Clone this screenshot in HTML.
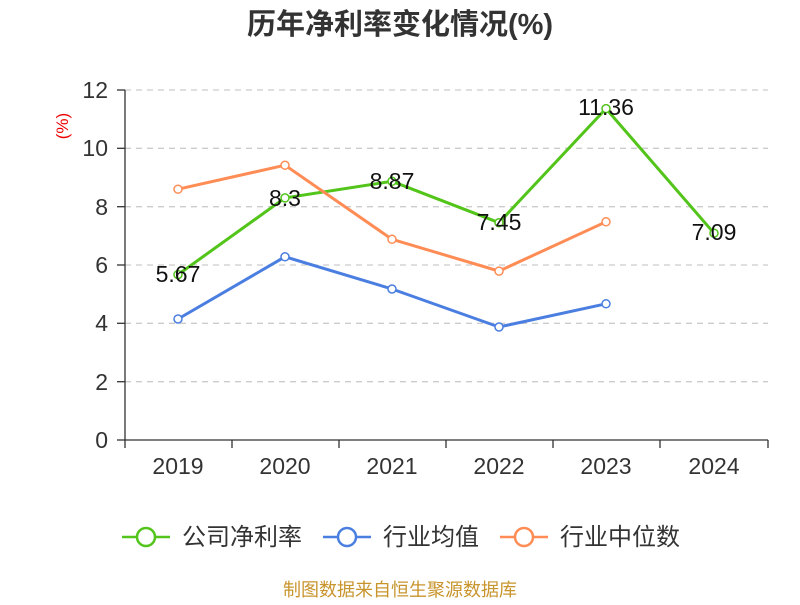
<!DOCTYPE html>
<html><head><meta charset="utf-8"><style>
body{margin:0;background:#fff;width:800px;height:600px;overflow:hidden}
svg text{font-family:"Liberation Sans","Noto Sans CJK SC",sans-serif}
</style></head><body>
<svg width="800" height="600" viewBox="0 0 800 600" xmlns="http://www.w3.org/2000/svg">
<text x="400" y="34" text-anchor="middle" font-size="29" font-weight="bold" fill="#333">历年净利率变化情况(%)</text>
<text x="68" y="126" font-size="17" fill="#e00" transform="rotate(-90 68 126)" text-anchor="middle">(%)</text>
<g stroke="#ccc" stroke-dasharray="6,5" stroke-width="1.3">
<line x1="125" x2="768" y1="90" y2="90"/><line x1="125" x2="768" y1="148.3" y2="148.3"/>
<line x1="125" x2="768" y1="206.7" y2="206.7"/><line x1="125" x2="768" y1="265" y2="265"/>
<line x1="125" x2="768" y1="323.3" y2="323.3"/><line x1="125" x2="768" y1="381.7" y2="381.7"/>
</g>
<g stroke="#333" stroke-width="1.3">
<line x1="125" x2="125" y1="90" y2="440"/><line x1="125" x2="768" y1="440" y2="440"/>
<line x1="117" x2="125" y1="90" y2="90"/><line x1="117" x2="125" y1="148.3" y2="148.3"/>
<line x1="117" x2="125" y1="206.7" y2="206.7"/><line x1="117" x2="125" y1="265" y2="265"/>
<line x1="117" x2="125" y1="323.3" y2="323.3"/><line x1="117" x2="125" y1="381.7" y2="381.7"/>
<line x1="117" x2="125" y1="440" y2="440"/>
<line x1="125" x2="125" y1="440" y2="448"/><line x1="232" x2="232" y1="440" y2="448"/>
<line x1="339" x2="339" y1="440" y2="448"/><line x1="446" x2="446" y1="440" y2="448"/>
<line x1="553" x2="553" y1="440" y2="448"/><line x1="660" x2="660" y1="440" y2="448"/>
<line x1="768" x2="768" y1="440" y2="448"/>
</g>
<g font-size="23" fill="#333" text-anchor="end">
<text x="108" y="98">12</text><text x="108" y="156">10</text><text x="108" y="215">8</text>
<text x="108" y="273">6</text><text x="108" y="331">4</text><text x="108" y="390">2</text><text x="108" y="448">0</text>
</g>
<g font-size="23" fill="#333" text-anchor="middle">
<text x="178" y="474">2019</text><text x="285" y="474">2020</text><text x="392" y="474">2021</text>
<text x="499" y="474">2022</text><text x="606" y="474">2023</text><text x="714" y="474">2024</text>
</g>
<g fill="none" stroke-width="3">
<polyline stroke="#52c41a" points="178,274.6 285,197.9 392,181.3 499,222.7 606,108.6 714,233.2"/>
<polyline stroke="#4a7ee0" points="178,319 285,256.8 392,289 499,327 606,303.8"/>
<polyline stroke="#ff8c55" points="178,189.2 285,165.2 392,239.3 499,271.1 606,221.8"/>
</g>
<g fill="#fff" stroke-width="1.5">
<g stroke="#52c41a"><circle cx="178" cy="274.6" r="4"/><circle cx="285" cy="197.9" r="4"/><circle cx="392" cy="181.3" r="4"/><circle cx="499" cy="222.7" r="4"/><circle cx="606" cy="108.6" r="4"/><circle cx="714" cy="233.2" r="4"/></g>
<g stroke="#4a7ee0"><circle cx="178" cy="319" r="4"/><circle cx="285" cy="256.8" r="4"/><circle cx="392" cy="289" r="4"/><circle cx="499" cy="327" r="4"/><circle cx="606" cy="303.8" r="4"/></g>
<g stroke="#ff8c55"><circle cx="178" cy="189.2" r="4"/><circle cx="285" cy="165.2" r="4"/><circle cx="392" cy="239.3" r="4"/><circle cx="499" cy="271.1" r="4"/><circle cx="606" cy="221.8" r="4"/></g>
</g>
<g font-size="23" fill="#111" text-anchor="middle">
<text x="178" y="282">5.67</text><text x="285" y="206">8.3</text><text x="392" y="189">8.87</text>
<text x="499" y="230">7.45</text><text x="606" y="115">11.36</text><text x="714" y="240">7.09</text>
</g>
<g stroke-width="2.5" fill="#fff">
<line x1="122" x2="170" y1="537" y2="537" stroke="#52c41a"/><circle cx="146" cy="537" r="9" stroke="#52c41a"/>
<line x1="323" x2="371" y1="537" y2="537" stroke="#4a7ee0"/><circle cx="347" cy="537" r="9" stroke="#4a7ee0"/>
<line x1="500" x2="548" y1="537" y2="537" stroke="#ff8c55"/><circle cx="524" cy="537" r="9" stroke="#ff8c55"/>
</g>
<g font-size="24" fill="#333">
<text x="182" y="545">公司净利率</text><text x="383" y="545">行业均值</text><text x="560" y="545">行业中位数</text>
</g>
<text x="400" y="596" text-anchor="middle" font-size="18" fill="#c8942c">制图数据来自恒生聚源数据库</text>
</svg>
</body></html>
